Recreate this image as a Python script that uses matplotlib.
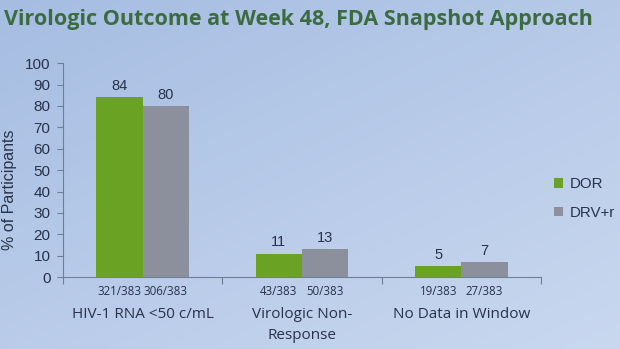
import numpy as np
import matplotlib.pyplot as plt
from matplotlib.colors import LinearSegmentedColormap

categories = ["HIV-1 RNA <50 c/mL", "Virologic Non-\nResponse", "No Data in Window"]
dor = [84, 11, 5]
drv = [80, 13, 7]
dor_n = ["321/383", "43/383", "19/383"]
drv_n = ["306/383", "50/383", "27/383"]

green = "#6aa323"
grey = "#8b909c"
ink = "#28324a"

fig = plt.figure(figsize=(6.2, 3.49), dpi=100)

# soft blue slide background
bg = fig.add_axes([0, 0, 1, 1], zorder=-1)
yy, xx = np.mgrid[0:1:200j, 0:1:200j]
grad = 0.55 * yy + 0.45 * xx
cmap = LinearSegmentedColormap.from_list("slide", ["#a6bde2", "#c9d8ef"])
bg.imshow(grad, cmap=cmap, aspect="auto", extent=[0, 1, 0, 1], origin="upper")
bg.axis("off")

fig.text(0.006, 0.945, "Virologic Outcome at Week 48, FDA Snapshot Approach",
         color="#3d6b40", fontsize=15.5, fontweight="bold", family="Open Sans",
         ha="left", va="center")

ax = fig.add_axes([0.1016, 0.206, 0.771, 0.613])
ax.patch.set_alpha(0)
x = np.arange(len(categories))
w = 0.29
ax.bar(x - w / 2, dor, w, color=green, label="DOR")
ax.bar(x + w / 2, drv, w, color=grey, label="DRV+r")

for i in x:
    ax.text(i - w / 2, dor[i] + 2, str(dor[i]), ha="center", va="bottom",
            fontsize=10.5, color=ink, family="Liberation Sans")
    ax.text(i + w / 2, drv[i] + 2, str(drv[i]), ha="center", va="bottom",
            fontsize=10.5, color=ink, family="Liberation Sans")
    ax.text(i - w / 2, -3.5, dor_n[i], ha="center", va="top",
            fontsize=8.3, color=ink, family="Open Sans")
    ax.text(i + w / 2, -3.5, drv_n[i], ha="center", va="top",
            fontsize=8.3, color=ink, family="Open Sans")
    ax.text(i, -14, categories[i], ha="center", va="top", fontsize=11,
            color=ink, family="Open Sans", linespacing=1.55)

ax.set_xlim(-0.5, 2.5)
ax.set_ylim(0, 100)
ax.set_yticks(range(0, 101, 10))
ax.set_xticks([-0.5, 0.5, 1.5, 2.5])
ax.set_xticklabels([])
ax.tick_params(axis="y", direction="out", length=4, color="#6f7f9a",
               labelsize=11, labelcolor=ink, pad=5)
ax.tick_params(axis="x", direction="out", length=5, color="#6f7f9a")
for lbl in ax.get_yticklabels():
    lbl.set_family("Liberation Sans")
for s in ["top", "right"]:
    ax.spines[s].set_visible(False)
for s in ["left", "bottom"]:
    ax.spines[s].set_color("#6f7f9a")
ax.set_ylabel("% of Participants", fontsize=11.5, color=ink,
              family="Liberation Sans")
ax.yaxis.set_label_coords(-0.096, 0.41)

ax.legend(loc="upper left", bbox_to_anchor=(1.02, 0.48), borderaxespad=0,
          borderpad=0.2, frameon=False,
          handlelength=0.6, handleheight=0.6, handletextpad=0.45,
          labelspacing=0.95, prop={"family": "Liberation Sans", "size": 10.8},
          labelcolor=ink)

fig.savefig("out.png", dpi=100)
